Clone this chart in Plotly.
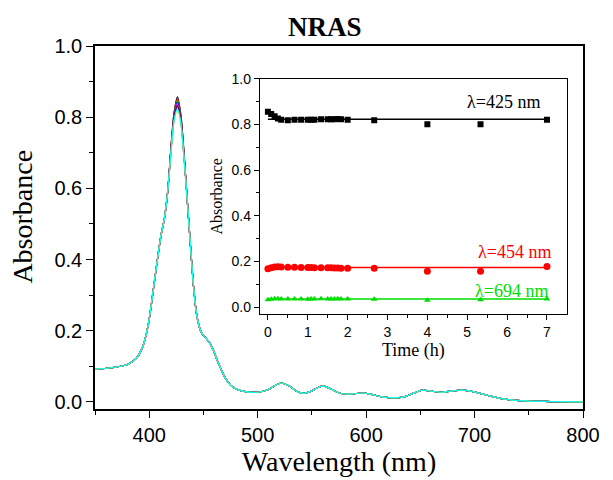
import plotly.graph_objects as go

# ---------------- main spectra data ----------------
wl_left = [350, 365, 380, 388, 394, 399, 404, 408, 411, 414, 417]
abs_left = [0.092, 0.096, 0.105, 0.122, 0.155, 0.215, 0.32, 0.41, 0.47, 0.515, 0.59]

peak_wl = [420, 423, 426, 429, 432]

wl_right = [435, 438, 441, 444, 448, 452, 456, 460, 465, 470, 475, 480, 490, 500,
            510, 516, 522, 530, 537, 543, 550, 556, 561, 567, 575, 585, 597, 605,
            615, 625, 635, 645, 652, 660, 670, 680, 688, 695, 705, 715, 725, 735,
            750, 770, 800]
abs_right = [0.57, 0.44, 0.32, 0.24, 0.195, 0.18, 0.165, 0.138, 0.10, 0.068, 0.047, 0.036, 0.028, 0.027,
             0.035, 0.046, 0.053, 0.043, 0.028, 0.024, 0.031, 0.041, 0.044, 0.037, 0.025, 0.022, 0.025, 0.021,
             0.014, 0.011, 0.014, 0.026, 0.033, 0.030, 0.027, 0.031, 0.033, 0.031, 0.024, 0.016, 0.009, 0.005,
             0.002, 0.001, 0.0]

series_colors = ["#000000", "#FF0000", "#00C000", "#0000FF", "#FF00FF", "#808000",
                 "#000080", "#800080", "#FFFF00", "#00FFFF"]
series_peaks = [
    [0.715, 0.815, 0.857, 0.812, 0.705],
    [0.712, 0.812, 0.852, 0.808, 0.702],
    [0.710, 0.808, 0.848, 0.805, 0.700],
    [0.708, 0.805, 0.843, 0.802, 0.698],
    [0.706, 0.802, 0.838, 0.798, 0.696],
    [0.704, 0.800, 0.834, 0.795, 0.694],
    [0.703, 0.798, 0.832, 0.793, 0.693],
    [0.702, 0.796, 0.830, 0.791, 0.692],
    [0.698, 0.790, 0.820, 0.785, 0.688],
    [0.700, 0.792, 0.823, 0.787, 0.690],
]

# ---------------- inset data ----------------
time_h = [0, 0.083, 0.167, 0.25, 0.333, 0.5, 0.667, 0.833, 1.0, 1.083, 1.167,
          1.333, 1.5, 1.583, 1.667, 1.75, 1.833, 2.0, 2.667, 4.0, 5.333, 7.0]
a425 = [0.855, 0.845, 0.835, 0.826, 0.820, 0.818, 0.820, 0.820, 0.820, 0.820, 0.820,
        0.822, 0.822, 0.822, 0.822, 0.823, 0.822, 0.820, 0.818, 0.800, 0.800, 0.820]
a454 = [0.168, 0.172, 0.175, 0.176, 0.175, 0.174, 0.174, 0.173, 0.173, 0.173, 0.172,
        0.172, 0.172, 0.172, 0.171, 0.171, 0.170, 0.170, 0.170, 0.157, 0.157, 0.177]
a694 = [0.032, 0.034, 0.036, 0.036, 0.035, 0.035, 0.035, 0.035, 0.034, 0.035, 0.035,
        0.036, 0.035, 0.035, 0.035, 0.036, 0.035, 0.035, 0.034, 0.030, 0.032, 0.035]
fit_t = [0, 7]
fit425 = [0.822, 0.822]
fit454 = [0.173, 0.173]
fit694 = [0.035, 0.035]

SANS = "Liberation Sans"
SERIF = "Liberation Serif"

fig = go.Figure()

for col, pk in zip(series_colors, series_peaks):
    fig.add_trace(go.Scatter(
        x=wl_left + peak_wl + wl_right, y=abs_left + pk + abs_right,
        mode="lines", line=dict(color=col, width=1.2, shape="spline", smoothing=0.8),
        xaxis="x", yaxis="y", showlegend=False, hoverinfo="skip"))

for ydat, fit, col, sym, sz in [(a425, fit425, "#000000", "square", 6),
                                 (a454, fit454, "#FF0000", "circle", 7),
                                 (a694, fit694, "#00DD00", "triangle-up", 6)]:
    fig.add_trace(go.Scatter(x=fit_t, y=fit, mode="lines", line=dict(color=col, width=1.5),
                             xaxis="x2", yaxis="y2", showlegend=False))
    fig.add_trace(go.Scatter(x=time_h, y=ydat, mode="markers",
                             marker=dict(symbol=sym, size=sz, color=col),
                             xaxis="x2", yaxis="y2", showlegend=False))

axis_common = dict(showline=True, linecolor="black", mirror=True, ticks="outside",
                   tickcolor="black", showgrid=False, zeroline=False)

fig.update_layout(
    width=613, height=480,
    margin=dict(l=95, r=30, t=46, b=68),
    paper_bgcolor="white", plot_bgcolor="white",
    xaxis=dict(**axis_common, range=[350, 800], tickvals=[400, 500, 600, 700, 800],
               linewidth=1.6, ticklen=7, tickwidth=1.3,
               minor=dict(tickvals=[350, 450, 550, 650, 750], ticklen=4, tickcolor="black", ticks="outside"),
               tickfont=dict(family=SANS, size=20, color="black"),
               title=dict(text="Wavelength (nm)", font=dict(family=SERIF, size=28, color="black"), standoff=3),
               domain=[0, 1]),
    yaxis=dict(**axis_common, range=[-0.02, 1.0], tickvals=[0, 0.2, 0.4, 0.6, 0.8, 1.0],
               ticktext=["0.0", "0.2", "0.4", "0.6", "0.8", "1.0"],
               linewidth=1.6, ticklen=7, tickwidth=1.3,
               minor=dict(tickvals=[0.1, 0.3, 0.5, 0.7, 0.9], ticklen=4, tickcolor="black", ticks="outside"),
               tickfont=dict(family=SANS, size=20, color="black"),
               domain=[0, 1]),
    xaxis2=dict(**axis_common, anchor="y2", domain=[0.338, 0.967], range=[-0.2, 7.5],
                tickvals=[0, 1, 2, 3, 4, 5, 6, 7], linewidth=1.2, ticklen=5, tickwidth=1,
                minor=dict(tickvals=[0.5, 1.5, 2.5, 3.5, 4.5, 5.5, 6.5], ticklen=3, tickcolor="black", ticks="outside"),
                tickfont=dict(family=SANS, size=14, color="black"),
                title=dict(text="Time (h)", font=dict(family=SERIF, size=18, color="black"), standoff=2)),
    yaxis2=dict(**axis_common, anchor="x2", domain=[0.262, 0.910], range=[-0.03, 1.0],
                tickvals=[0, 0.2, 0.4, 0.6, 0.8, 1.0],
                ticktext=["0.0", "0.2", "0.4", "0.6", "0.8", "1.0"],
                linewidth=1.2, ticklen=5, tickwidth=1,
                minor=dict(tickvals=[0.1, 0.3, 0.5, 0.7, 0.9], ticklen=3, tickcolor="black", ticks="outside"),
                tickfont=dict(family=SANS, size=14, color="black"),
                title=dict(text="Absorbance", font=dict(family=SERIF, size=16, color="black"), standoff=4)),
    annotations=[
        dict(text="<b>NRAS</b>", x=0.471, y=1.0, xref="paper", yref="paper", yanchor="bottom",
             yshift=2, showarrow=False, font=dict(family=SERIF, size=27, color="black")),
        dict(text="Absorbance", textangle=-90, x=0, xref="paper", xanchor="center", xshift=-72,
             y=0.53, yref="paper", yanchor="middle", showarrow=False,
             font=dict(family=SERIF, size=28, color="black")),
        dict(text="λ=425 nm", x=6.87, y=0.896, xref="x2", yref="y2", xanchor="right",
             showarrow=False, font=dict(family=SERIF, size=18, color="black")),
        dict(text="λ=454 nm", x=7.14, y=0.243, xref="x2", yref="y2", xanchor="right",
             showarrow=False, font=dict(family=SERIF, size=18, color="#FF0000")),
        dict(text="λ=694 nm", x=7.07, y=0.072, xref="x2", yref="y2", xanchor="right",
             showarrow=False, font=dict(family=SERIF, size=18, color="#00DD00")),
    ],
)

fig.write_html("out.html")
